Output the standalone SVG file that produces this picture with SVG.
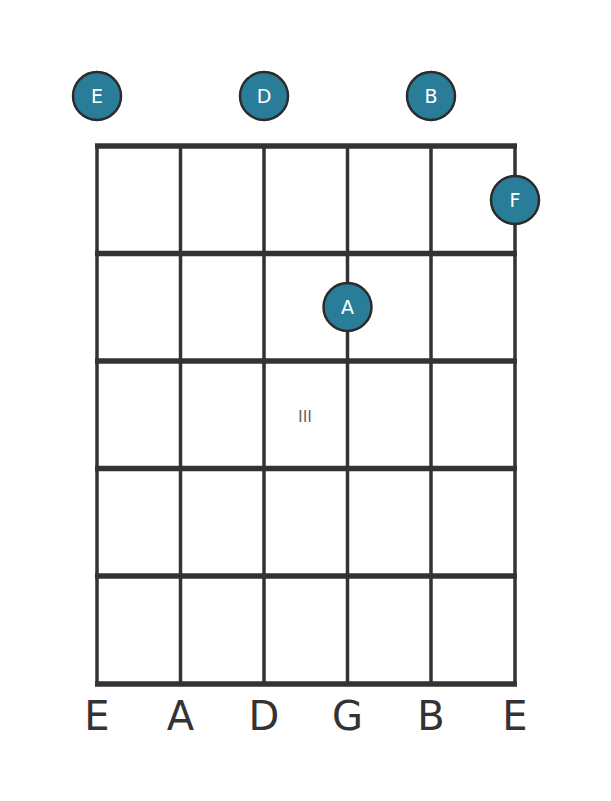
<svg xmlns="http://www.w3.org/2000/svg" width="611" height="801" viewBox="0 0 611 801">
<style>
.str{stroke:#333;stroke-width:3.5;fill:none}
.fret{stroke:#333;stroke-width:5.5;fill:none}
.dot{fill:#2a7d99;stroke:#2b2b2b;stroke-width:2.5}
.dt{font-family:"DejaVu Sans",sans-serif;font-size:19px;fill:#fff;text-anchor:middle}
.lbl{font-family:"DejaVu Sans",sans-serif;font-size:40px;fill:#333;text-anchor:middle}
.fn{font-family:"DejaVu Sans",sans-serif;font-size:16px;fill:#666;text-anchor:middle}
</style>
<rect width="611" height="801" fill="#fff"/>
<g id="connectors">
<line class="str" x1="97" y1="146" x2="97" y2="684"/>
<line class="str" x1="180.5" y1="146" x2="180.5" y2="684"/>
<line class="str" x1="264" y1="146" x2="264" y2="684"/>
<line class="str" x1="347.5" y1="146" x2="347.5" y2="684"/>
<line class="str" x1="431" y1="146" x2="431" y2="684"/>
<line class="str" x1="515" y1="146" x2="515" y2="684"/>
<line class="fret" x1="95" y1="146" x2="517" y2="146"/>
<line class="fret" x1="95" y1="253.5" x2="517" y2="253.5"/>
<line class="fret" x1="95" y1="361" x2="517" y2="361"/>
<line class="fret" x1="95" y1="468.5" x2="517" y2="468.5"/>
<line class="fret" x1="95" y1="576" x2="517" y2="576"/>
<line class="fret" x1="95" y1="684" x2="517" y2="684"/>
</g>
<g id="fret-number"><text class="fn" x="305" y="421.5">III</text></g>
<g id="open-E"><circle class="dot" cx="97" cy="96" r="24"/><text class="dt" x="97" y="103">E</text></g>
<g id="open-D"><circle class="dot" cx="264" cy="96" r="24"/><text class="dt" x="264" y="103">D</text></g>
<g id="open-B"><circle class="dot" cx="431" cy="96" r="24"/><text class="dt" x="431" y="103">B</text></g>
<g id="note-F"><circle class="dot" cx="515" cy="200" r="24"/><text class="dt" x="515" y="207">F</text></g>
<g id="note-A"><circle class="dot" cx="347.5" cy="307" r="24"/><text class="dt" x="347.5" y="314">A</text></g>
<g id="labels">
<text class="lbl" x="97" y="730">E</text>
<text class="lbl" x="180.5" y="730">A</text>
<text class="lbl" x="264" y="730">D</text>
<text class="lbl" x="347.5" y="730">G</text>
<text class="lbl" x="431" y="730">B</text>
<text class="lbl" x="515" y="730">E</text>
</g>
</svg>
